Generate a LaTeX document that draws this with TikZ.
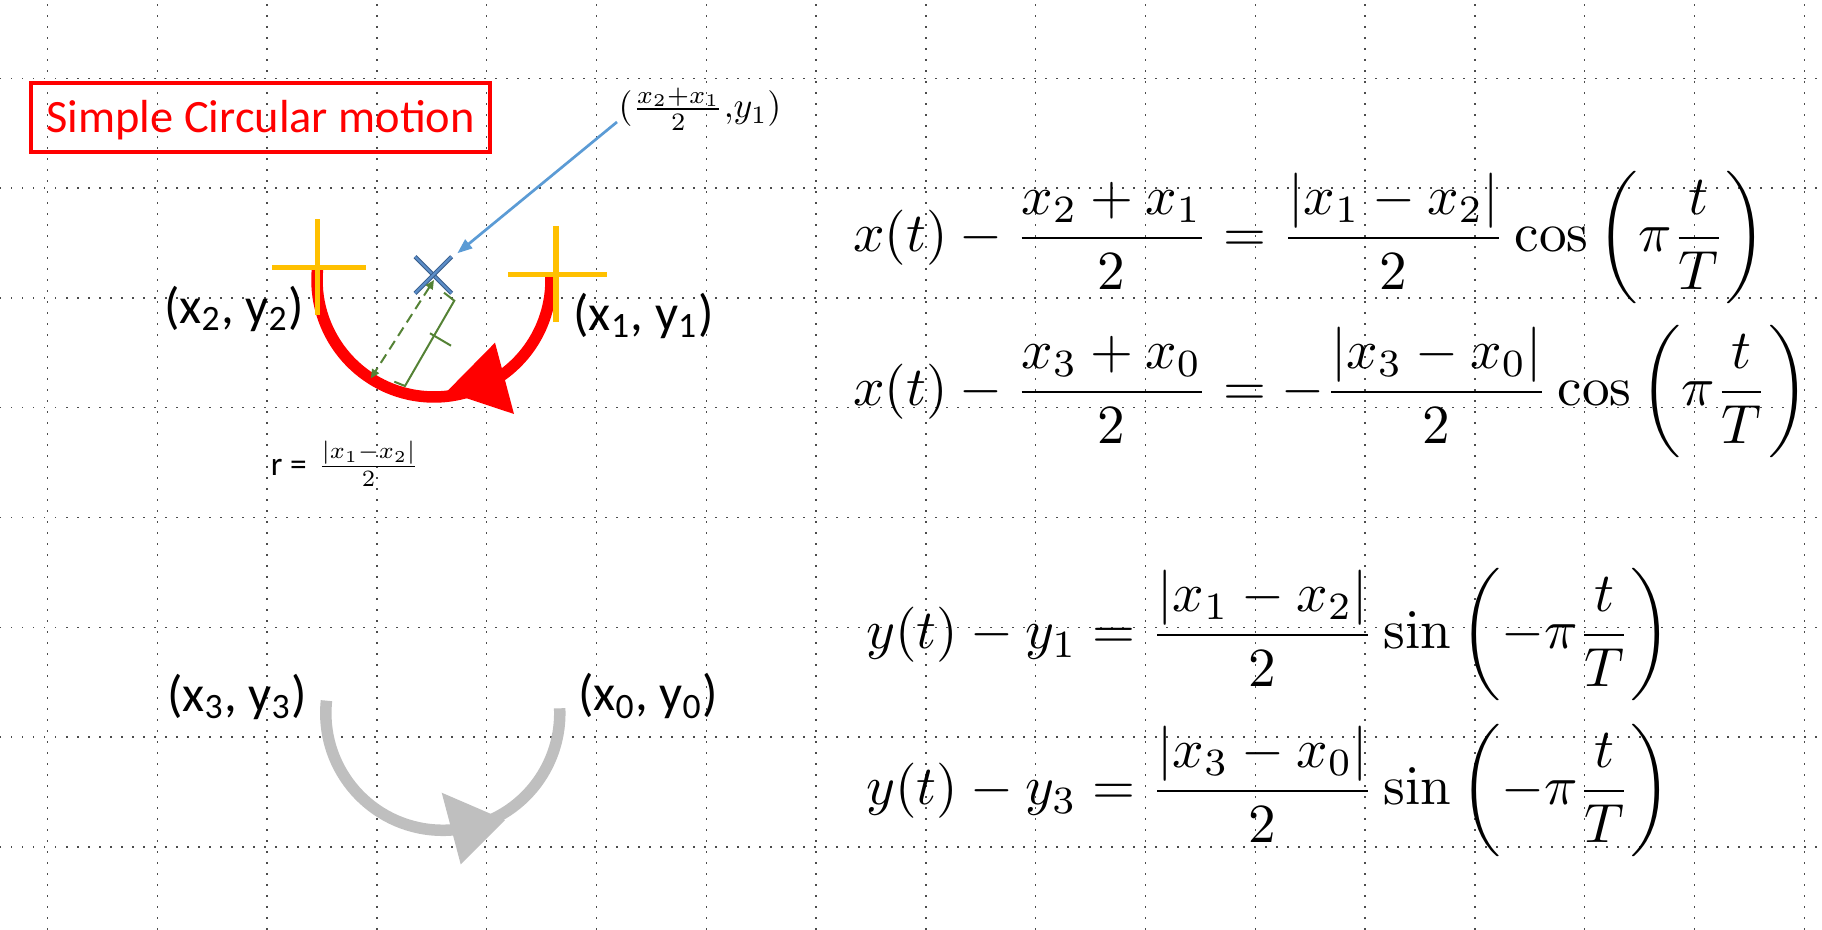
\documentclass[tikz,border=0pt]{standalone}
\usepackage{amsmath}
\usepackage[no-math]{fontspec}
\newfontfamily\calibri{Carlito}
\usetikzlibrary{arrows.meta}
\definecolor{ppred}{RGB}{255,0,0}
\definecolor{ppyellow}{RGB}{255,192,0}
\definecolor{ppblue}{RGB}{91,155,213}
\definecolor{ppxblue}{RGB}{91,141,200}
\definecolor{ppxdark}{RGB}{56,93,138}
\definecolor{ppgreen}{RGB}{84,130,53}
\definecolor{ppgray}{RGB}{191,191,191}

\begin{document}
\begin{tikzpicture}[
    griddots/.style={black!70, line width=0.15mm, dash pattern=on 0.15mm off 0.95mm},
    titlebox/.style={draw=ppred, line width=0.4mm, text=ppred, inner sep=0,
      minimum width=4.587cm, minimum height=0.696cm, text height=8.8pt, text depth=0pt,
      font=\calibri\fontsize{13.2}{15}\selectfont},
    pt/.style={inner sep=0, font=\calibri\fontsize{14.5}{17}\selectfont},
    eq/.style={anchor=west, inner sep=0, scale=1.57, transform shape},
    bigarc/.style={line width=1.15mm},
    cross/.style={ppyellow, line width=0.55mm},
    xmark/.style={draw=ppxdark, double=ppxblue, double distance=0.22mm, line width=0.1mm},
    pointer/.style={ppblue, line width=0.27mm, -{Triangle[length=1.5mm,width=1.1mm]}},
    radline/.style={ppgreen, line width=0.2mm, dash pattern=on 1mm off 0.6mm,
      {Triangle[length=0.9mm,width=0.8mm]}-{Triangle[length=0.9mm,width=0.8mm]}},
    dimline/.style={ppgreen, line width=0.2mm}
  ]
  \useasboundingbox (0,0) rectangle (18.22,9.30);
  % dotted grid in the background
  \foreach \i in {0,...,16}
    \draw[griddots] ({0.475+1.098*\i},0) -- ({0.475+1.098*\i},9.30);
  \foreach \j in {0,...,7}
    \draw[griddots] (0,{8.517-1.098*\j}) -- (18.22,{8.517-1.098*\j});

  \node[titlebox] (title) at (2.607,8.125) {Simple Circular motion};

  % upper half turn
  \coordinate (ctr) at (4.34,6.50);
  \draw[bigarc, ppred] (ctr) ++(173.6:1.17) arc[start angle=173.6, end angle=361.6, radius=1.17];
  \fill[ppred] (4.95,5.873) -- (5.14,5.16) -- (4.467,5.383) -- cycle;
  \draw[cross] (3.177,7.107) -- (3.177,6.150);
  \draw[cross] (2.720,6.627) -- (3.660,6.627);
  \draw[cross] (5.560,7.040) -- (5.560,6.077);
  \draw[cross] (5.083,6.557) -- (6.070,6.557);

  \coordinate (mid) at (4.333,6.55);
  \draw[xmark] (mid) ++(-0.183,0.183) -- ++(0.366,-0.366);
  \draw[xmark] (mid) ++(0.183,0.183) -- ++(-0.366,-0.366);

  \node[inner sep=0, scale=1.02] (midlbl) at (7.00,8.21) {$(\frac{x_2+x_1}{2}{,}y_1)$};
  \coordinate (tail) at (6.17,8.08);
  \coordinate (tip) at (4.573,6.767);
  \draw[pointer] (tail) -- (tip);

  % radius
  \coordinate (rim) at ([shift={(237.3:1.17)}]ctr);
  \draw[radline] (ctr) -- (rim);
  \draw[dimline] (4.44,6.373) -- (4.543,6.293) -- (4.05,5.44) -- (3.943,5.483);
  \draw[dimline] (4.30,5.967) -- (4.51,5.843);
  \node[inner sep=0, scale=0.95] (rlbl) at (3.45,4.66) {{\calibri r =} $\frac{|x_1-x_2|}{2}$};

  \node[pt] (p2) at (2.34,6.215) {(x\textsubscript{2}, y\textsubscript{2})};
  \node[pt] (p1) at (6.435,6.145) {(x\textsubscript{1}, y\textsubscript{1})};

  % lower half turn
  \coordinate (ctrb) at (4.428,2.167);
  \draw[bigarc, ppgray] (ctrb) ++(173.8:1.17) arc[start angle=173.8, end angle=362.45, radius=1.17];
  \fill[ppgray] (4.417,1.373) -- (5.05,1.10) -- (4.607,0.657) -- cycle;
  \node[pt] (p3) at (2.37,2.335) {(x\textsubscript{3}, y\textsubscript{3})};
  \node[pt] (p0) at (6.48,2.34) {(x\textsubscript{0}, y\textsubscript{0})};

  % equations
  \node[eq] (eqa) at (8.52,6.92) {$\displaystyle x(t)-\frac{x_2+x_1}{2}=\frac{|x_1-x_2|}{2}\cos\left(\pi\frac{t}{T}\right)$};
  \node[eq] (eqb) at (8.52,5.38) {$\displaystyle x(t)-\frac{x_3+x_0}{2}=-\frac{|x_3-x_0|}{2}\cos\left(\pi\frac{t}{T}\right)$};
  \node[eq] (eqc) at (8.65,2.95) {$\displaystyle y(t)-y_1=\frac{|x_1-x_2|}{2}\sin\left(-\pi\frac{t}{T}\right)$};
  \node[eq] (eqd) at (8.65,1.39) {$\displaystyle y(t)-y_3=\frac{|x_3-x_0|}{2}\sin\left(-\pi\frac{t}{T}\right)$};
\end{tikzpicture}
\end{document}
